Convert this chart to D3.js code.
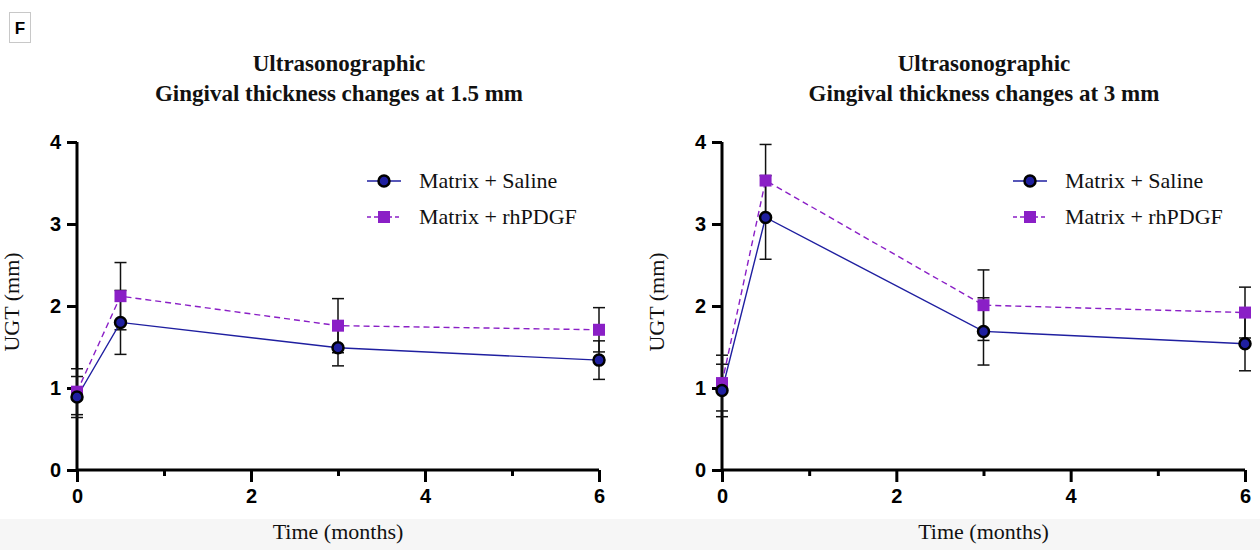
<!DOCTYPE html>
<html lang="en">
<head>
<meta charset="utf-8">
<title>Ultrasonographic gingival thickness</title>
<script src="https://cdn.jsdelivr.net/npm/d3@7/dist/d3.min.js"></script>
<style>
  body { margin: 0; background: #fff; }
  .axis path, .axis line { stroke: #000; stroke-width: 3px; fill: none; }
  .axis text { font-family: "Liberation Sans", Arial, sans-serif; font-weight: bold; font-size: 20px; fill: #000; }
  .title { font-family: "Liberation Serif", serif; font-weight: bold; font-size: 23px; fill: #111; }
  .lab { font-family: "Liberation Serif", serif; font-size: 22px; fill: #111; }
</style>
</head>
<body>
<script>
// time in months
const timePoints = [0, 0.5, 3, 6];

// 1.5 mm panel
const saline15   = [0.89, 1.80, 1.49, 1.34];
const saline15Sd = [0.25, 0.39, 0.22, 0.235];
const pdgf15     = [0.955, 2.12, 1.76, 1.71];
const pdgf15Sd   = [0.28, 0.41, 0.33, 0.27];

// 3 mm panel
const saline3   = [0.97, 3.08, 1.69, 1.54];
const saline3Sd = [0.32, 0.51, 0.41, 0.33];
const pdgf3     = [1.06, 3.53, 2.01, 1.92];
const pdgf3Sd   = [0.34, 0.44, 0.43, 0.31];

const seriesNames = ["Matrix + Saline", "Matrix + rhPDGF"];
const yTicks = [0, 1, 2, 3, 4];
const xTicks = [0, 1, 2, 3, 4, 5, 6];
const xLabels = [0, 2, 4, 6];

const W = 1260, H = 550;
const salineCol = "#1f1fa0", pdgfCol = "#8a1fc6";

const svg = d3.select("body").append("svg")
  .attr("width", W).attr("height", H);

// grey strip at bottom
svg.append("rect").attr("x", 0).attr("y", 519).attr("width", W).attr("height", H - 519)
  .attr("fill", "#f6f6f6");

// panel letter
svg.append("rect").attr("x", 9.5).attr("y", 12.5).attr("width", 21).attr("height", 30)
  .attr("fill", "#fff").attr("stroke", "#c8c8c8").attr("stroke-width", 1);
svg.append("text").attr("x", 20).attr("y", 34).attr("text-anchor", "middle")
  .style("font-family", "Liberation Sans, sans-serif").style("font-weight", "bold")
  .style("font-size", "17px").text("F");

function drawPanel(opts) {
  const x = d3.scaleLinear().domain([0, 6]).range(opts.xRange);
  const y = d3.scaleLinear().domain([0, 4]).range([470, 142]);
  const g = svg.append("g");
  const cx = (opts.xRange[0] + opts.xRange[1]) / 2;

  // title
  g.append("text").attr("class", "title").attr("x", opts.titleX).attr("y", 71)
    .attr("text-anchor", "middle").text(opts.title[0]);
  g.append("text").attr("class", "title").attr("x", opts.titleX).attr("y", 101)
    .attr("text-anchor", "middle").text(opts.title[1]);

  // axes
  const yAxis = d3.axisLeft(y).tickValues(yTicks).tickSize(10).tickPadding(6)
    .tickFormat(d3.format("d"));
  g.append("g").attr("class", "axis")
    .attr("transform", "translate(" + opts.xRange[0] + ",0)")
    .call(yAxis)
    .call(s => s.select(".domain").attr("d", "M0," + (y(4)) + "V" + y(0)));

  const xAxis = d3.axisBottom(x).tickValues(xTicks).tickSize(12).tickPadding(5)
    .tickFormat(d => xLabels.includes(d) ? d : "");
  const gx = g.append("g").attr("class", "axis")
    .attr("transform", "translate(0,470)")
    .call(xAxis);
  gx.select(".domain").attr("d", "M" + opts.xRange[0] + ",0H" + opts.xRange[1]);
  gx.selectAll(".tick line").attr("y2", d => xLabels.includes(d) ? 12 : 6);
  gx.selectAll(".tick text").attr("y", 19);

  // axis titles
  g.append("text").attr("class", "lab")
    .attr("transform", "translate(" + (opts.xRange[0] - 58) + ",302) rotate(-90)")
    .attr("text-anchor", "middle").text("UGT (mm)");
  g.append("text").attr("class", "lab").attr("x", cx).attr("y", 539)
    .attr("text-anchor", "middle").text("Time (months)");

  const series = [
    { vals: opts.pdgf, sd: opts.pdgfSd, col: pdgfCol, dash: "6,4", shape: "square" },
    { vals: opts.saline, sd: opts.salineSd, col: salineCol, dash: null, shape: "circle" }
  ];

  // error bars
  series.forEach(s => {
    const eb = g.append("g");
    timePoints.forEach((t, i) => {
      const px = x(t), lo = y(s.vals[i] - s.sd[i]), hi = y(s.vals[i] + s.sd[i]);
      eb.append("line").attr("x1", px).attr("x2", px).attr("y1", lo).attr("y2", hi)
        .attr("stroke", "#111").attr("stroke-width", 1.5);
      [lo, hi].forEach(v => eb.append("line").attr("x1", px - 6).attr("x2", px + 6)
        .attr("y1", v).attr("y2", v).attr("stroke", "#111").attr("stroke-width", 1.5));
    });
  });

  // lines
  const line = d3.line().x((d, i) => x(timePoints[i])).y(d => y(d));
  series.forEach(s => {
    g.append("path").attr("d", line(s.vals)).attr("fill", "none")
      .attr("stroke", s.col).attr("stroke-width", 1.4)
      .attr("stroke-dasharray", s.dash);
  });

  // markers
  series.forEach(s => {
    s.vals.forEach((v, i) => drawMarker(g, s.shape, x(timePoints[i]), y(v)));
  });

  // legend
  const lg = g.append("g").attr("transform", "translate(" + opts.legendX + ",181)");
  [series[1], series[0]].forEach((s, i) => {
    const row = lg.append("g").attr("transform", "translate(0," + (i * 36) + ")");
    row.append("line").attr("x1", 0).attr("x2", 34).attr("y1", 0).attr("y2", 0)
      .attr("stroke", s.col).attr("stroke-width", 1.4)
      .attr("stroke-dasharray", s.dash ? "4,3" : null);
    drawMarker(row, s.shape, 17, 0);
    row.append("text").attr("class", "lab").attr("x", 52).attr("y", 7).text(seriesNames[i]);
  });
}

function drawMarker(g, shape, px, py) {
  if (shape === "circle") {
    g.append("circle").attr("cx", px).attr("cy", py).attr("r", 5.5)
      .attr("fill", salineCol).attr("stroke", "#000").attr("stroke-width", 2.5);
  } else {
    g.append("rect").attr("x", px - 6).attr("y", py - 6).attr("width", 12).attr("height", 12)
      .attr("fill", pdgfCol);
  }
}

drawPanel({
  xRange: [77, 599], titleX: 339,
  title: ["Ultrasonographic", "Gingival thickness changes at 1.5 mm"],
  saline: saline15, salineSd: saline15Sd, pdgf: pdgf15, pdgfSd: pdgf15Sd,
  legendX: 367
});
drawPanel({
  xRange: [722, 1245], titleX: 984,
  title: ["Ultrasonographic", "Gingival thickness changes at 3 mm"],
  saline: saline3, salineSd: saline3Sd, pdgf: pdgf3, pdgfSd: pdgf3Sd,
  legendX: 1013
});
</script>
</body>
</html>
